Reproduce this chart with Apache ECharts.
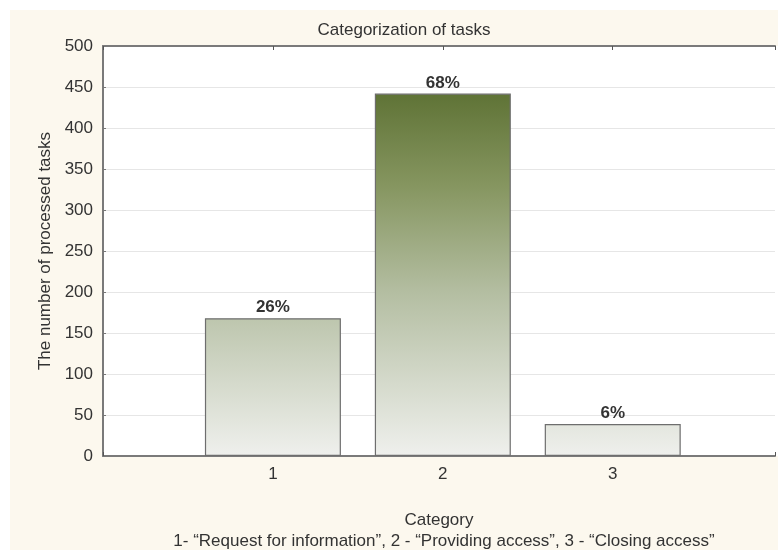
<!DOCTYPE html>
<html>
<head>
<meta charset="utf-8">
<script src="https://cdn.jsdelivr.net/npm/echarts@6/dist/echarts.min.js"></script>
<style>
  html, body { margin: 0; padding: 0; background: #ffffff; }
  #chart { width: 778px; height: 550px; }
</style>
</head>
<body>
<div id="chart"></div>
<script>
// Task categories and number of processed tasks per category
const categories = [1, 2, 3];
const taskCounts = [168, 442, 39];
const yTicks = [0, 50, 100, 150, 200, 250, 300, 350, 400, 450, 500];
const categoryNote = '1- \u201CRequest for information\u201D, 2 - \u201CProviding access\u201D, 3 - \u201CClosing access\u201D';

const total = taskCounts.reduce((a, b) => a + b, 0);
const shares = taskCounts.map(v => Math.round(v / total * 100));
const barData = categories.map((c, i) => [c, taskCounts[i]]);

const font = '"Liberation Sans", Arial, sans-serif';
const textColor = '#333333';
const chart = echarts.init(document.getElementById('chart'), null, { renderer: 'canvas' });

// The x range runs a little short of 4 so the plot is cut at the right edge
const xMax = 3.955;

function makeOption(fill) {
  return {
    animation: false,
    backgroundColor: '#ffffff',
    graphic: [{
      type: 'rect', z: -10, silent: true,
      shape: { x: 10, y: 10, width: 800, height: 560 },
      style: { fill: '#fcf8ee' }
    }, {
      // white plot panel running out to the right edge of the page
      type: 'rect', z: -9, silent: true,
      shape: { x: 103, y: 46, width: 700, height: 410 },
      style: { fill: '#ffffff' }
    }, {
      type: 'text', silent: true,
      x: 444, y: 541,
      style: {
        text: categoryNote, fontFamily: font, fontSize: 17, fill: textColor,
        textAlign: 'center', textVerticalAlign: 'middle'
      }
    }],
    title: {
      text: 'Categorization of tasks',
      left: 399, top: 17, textAlign: 'center',
      textStyle: { fontFamily: font, fontSize: 17, fontWeight: 'normal', color: textColor }
    },
    grid: {
      left: 103, top: 46, bottom: 94, right: 0,
      show: false
    },
    xAxis: [{
      type: 'value', min: 0, max: xMax, interval: 1, position: 'bottom',
      name: 'Category', nameLocation: 'middle', nameGap: 56,
      nameTextStyle: { fontFamily: font, fontSize: 17, color: textColor },
      axisLine: { show: true, onZero: false, lineStyle: { color: '#7a7a7a', width: 2 } },
      axisTick: { show: true, inside: true, length: 4, lineStyle: { color: '#555555' } },
      splitLine: { show: false },
      axisLabel: {
        fontFamily: font, fontSize: 17, color: textColor, margin: 10,
        formatter: v => (categories.includes(v) ? String(v) : '')
      }
    }, {
      type: 'value', min: 0, max: xMax, interval: 1, position: 'top',
      axisLine: { show: true, onZero: false, lineStyle: { color: '#7a7a7a', width: 2 } },
      axisTick: { show: true, inside: true, length: 4, lineStyle: { color: '#555555' } },
      splitLine: { show: false },
      axisLabel: { show: false }
    }],
    yAxis: {
      type: 'value', min: yTicks[0], max: yTicks[yTicks.length - 1], interval: 50,
      name: 'The number of processed tasks', nameLocation: 'middle', nameGap: 49,
      nameTextStyle: { fontFamily: font, fontSize: 17, color: textColor },
      axisLine: { show: true, lineStyle: { color: '#7a7a7a', width: 2 } },
      axisTick: { show: true, inside: true, length: 3, lineStyle: { color: '#777777' } },
      splitLine: { show: true, lineStyle: { color: '#e6e6e6', width: 1 } },
      axisLabel: { fontFamily: font, fontSize: 17, color: textColor, margin: 10 }
    },
    series: [{
      type: 'bar',
      data: barData,
      barWidth: 136,
      itemStyle: { color: fill, borderColor: '#6e6e6e', borderWidth: 1.2 },
      label: {
        show: true, position: 'top', distance: 2,
        fontFamily: font, fontSize: 17, fontWeight: 'bold', color: textColor,
        formatter: p => shares[p.dataIndex] + '%'
      }
    }]
  };
}

chart.setOption(makeOption('#a7b393'));

// Shade the bars by value: one vertical gradient shared across the plot
const yTop = chart.convertToPixel({ yAxisIndex: 0 }, Math.max(...taskCounts));
const yBottom = chart.convertToPixel({ yAxisIndex: 0 }, 0);
const shade = new echarts.graphic.LinearGradient(0, yTop, 0, yBottom, [
  { offset: 0, color: '#5f7336' },
  { offset: 0.25, color: '#85955f' },
  { offset: 0.55, color: '#b4bea2' },
  { offset: 1, color: '#eff0ed' }
], true);
chart.setOption(makeOption(shade));
</script>
</body>
</html>
